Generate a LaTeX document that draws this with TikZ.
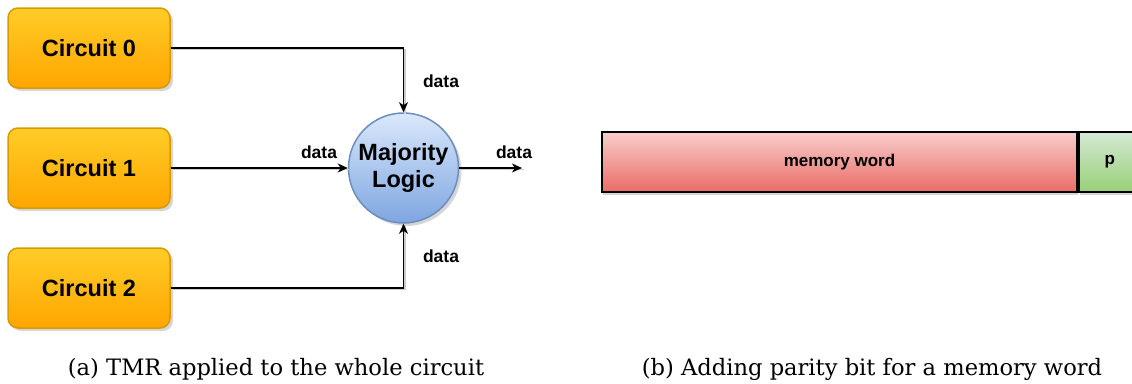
\documentclass[tikz,border=0pt]{standalone}
\usepackage{fontspec}
\setsansfont{Liberation Sans}
\newfontfamily\capfont{DejaVu Serif}
\usetikzlibrary{arrows.meta,shadows}

\definecolor{ambertop}{HTML}{FFCD28}
\definecolor{amberbot}{HTML}{FFA500}
\definecolor{amberline}{HTML}{D79B00}
\definecolor{bluetop}{HTML}{DAE8FC}
\definecolor{bluebot}{HTML}{7EA6E0}
\definecolor{blueline}{HTML}{6C8EBF}
\definecolor{redtop}{HTML}{F8CECC}
\definecolor{redbot}{HTML}{EA6B66}
\definecolor{greentop}{HTML}{D5E8D4}
\definecolor{greenbot}{HTML}{97D077}

\tikzset{
  softshadow/.style={drop shadow={shadow xshift=3pt,shadow yshift=-3pt,fill=black,opacity=0.16}},
  circuitbox/.style={rectangle, rounded corners=10pt, minimum width=162pt, minimum height=80pt,
    top color=ambertop, bottom color=amberbot, draw=amberline, line width=1.5pt, softshadow,
    font=\sffamily\bfseries\fontsize{23.5}{27}\selectfont, inner sep=0pt},
  voter/.style={circle, minimum size=110pt, inner sep=0pt, top color=bluetop, bottom color=bluebot,
    draw=blueline, line width=1.5pt, softshadow, align=center,
    font=\sffamily\bfseries\fontsize{23.5}{27}\selectfont},
  wordcell/.style={rectangle, draw=black, line width=1.8pt, minimum height=60pt, inner sep=0pt,
    font=\sffamily\bfseries\fontsize{17}{20}\selectfont,
    drop shadow={shadow xshift=1pt,shadow yshift=-3pt,fill=black,opacity=0.16}},
  wire/.style={line width=1.2pt, -{Stealth[length=10pt,width=9pt,inset=3pt]}},
  wireshade/.style={line width=1.2pt, draw=black!20},
  tag/.style={font=\sffamily\bfseries\fontsize{17.5}{20}\selectfont, inner sep=0pt},
  caption/.style={font=\capfont\fontsize{22.6}{26}\selectfont, inner sep=0pt, anchor=base}
}

\begin{document}
\begin{tikzpicture}[x=1pt,y=-1pt]
  \useasboundingbox (0,0) rectangle (1132,383);

  % triple modular redundancy
  \node[circuitbox] (c0) at (89,48)  {Circuit 0};
  \node[circuitbox] (c1) at (89,168) {Circuit 1};
  \node[circuitbox] (c2) at (89,288) {Circuit 2};
  \node[voter] (maj) at (403.5,168) {Majority\\Logic};
  \coordinate (out) at (522,168);

  % faint offset copies of the wires, like their shadows
  \begin{scope}[transform canvas={shift={(1.5pt,-1.5pt)}}]
    \draw[wireshade] (c0.east) -| (maj.north);
    \draw[wireshade] (c1.east) -- (maj.west);
    \draw[wireshade] (c2.east) -| (maj.south);
    \draw[wireshade] (maj.east) -- (out);
  \end{scope}

  \draw[wire] (c0.east) -| (maj.north);
  \draw[wire] (c1.east) -- (maj.west);
  \draw[wire] (c2.east) -| (maj.south);
  \draw[wire] (maj.east) -- (out);

  \node[tag] (d0) at (441,81)  {data};
  \node[tag] (d1) at (319,152) {data};
  \node[tag] (d3) at (514,152) {data};
  \node[tag] (d2) at (441,256) {data};

  % memory word with its parity bit
  \node[wordcell, minimum width=475pt, top color=redtop, bottom color=redbot] (word) at (839.5,162) {memory word};
  \node[wordcell, minimum width=62pt, top color=greentop, bottom color=greenbot, anchor=west] (par) at (word.east) {p};

  % captions
  \node[caption] (capa) at (276,375) {(a) TMR applied to the whole circuit};
  \node[caption] (capb) at (872,375) {(b) Adding parity bit for a memory word};
\end{tikzpicture}
\end{document}
